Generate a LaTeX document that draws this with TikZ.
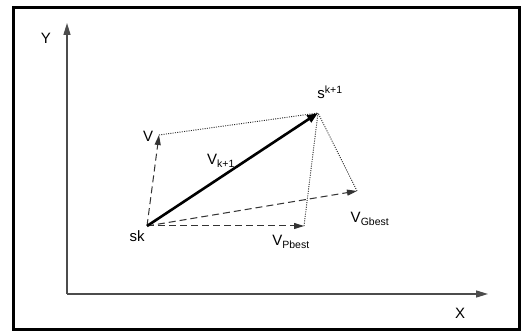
\documentclass[tikz,border=0pt]{standalone}
\usepackage{fontspec}
\setmainfont{Liberation Sans}
\usetikzlibrary{arrows.meta}

\begin{document}
\begin{tikzpicture}[x=1pt,y=1pt]
    % Style definitions
    \tikzset{
        axis/.style={draw=black!70, line width=1.4pt, -{Triangle[length=12pt,width=7pt]}},
        comp/.style={draw=black!80, line width=1pt, dash pattern=on 7pt off 4pt, -{Triangle[length=10pt,width=6pt]}},
        result/.style={black, line width=2.6pt, -{Triangle[length=11pt,width=8pt]}},
        guide/.style={black!85, line width=0.9pt, dash pattern=on 1pt off 1.3pt},
        lbl/.style={font=\fontsize{15}{17}\selectfont, inner sep=0pt}
    }
    \useasboundingbox (0,0) rectangle (521,331);
    \fill[white] (0,0) rectangle (521,331);
    \draw[line width=3pt] (13.5,1.5) rectangle (519.5,323.5);

    % ==========================================
    % AXES
    % ==========================================
    \coordinate (O) at (67,37);
    \coordinate (ytip) at (67,308);
    \coordinate (xtip) at (488,37);
    \draw[axis] (O) -- (ytip);
    \draw[axis] (O) -- (xtip);
    \node[lbl] (ylab) at (46,293) {Y};
    \node[lbl] (xlab) at (460,18) {X};

    % ==========================================
    % POINTS
    % ==========================================
    \coordinate (sk) at (147,105);
    \coordinate (snext) at (318,218);
    \coordinate (v) at (159,196);
    \coordinate (pbest) at (304,105);
    \coordinate (gbest) at (357,140);

    % Guide lines (parallelogram closure) to the new position
    \draw[guide] (v) -- (snext);
    \draw[guide] (pbest) -- (snext);
    \draw[guide] (gbest) -- (snext);

    % Velocity components
    \draw[comp] (sk) -- (v);
    \draw[comp] (sk) -- (pbest);
    \draw[comp] (sk) -- (gbest);

    % Resulting velocity
    \draw[result] (sk) -- (snext);

    % Labels
    \node[lbl] (sklab) at (137,95) {sk};
    \node[lbl] (snextlab) at (330,239) {s\textsuperscript{k+1}};
    \node[lbl] (vlab) at (148,195) {V};
    \node[lbl] (vnextlab) at (221,170) {V\textsubscript{k+1}};
    \node[lbl] (pbestlab) at (291,89) {V\textsubscript{Pbest}};
    \node[lbl] (gbestlab) at (370,112) {V\textsubscript{Gbest}};
\end{tikzpicture}
\end{document}
